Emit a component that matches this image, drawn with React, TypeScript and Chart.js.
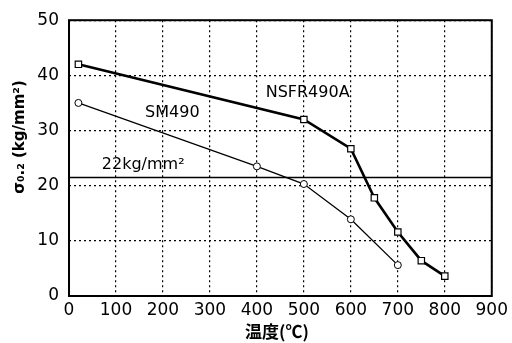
import React, { useEffect, useRef } from "react";
import { Chart, registerables } from "chart.js";

Chart.register(...registerables);

const nsfrTemps = [20, 500, 600, 650, 700, 750, 800];
const nsfrValues = [42, 32, 26.7, 17.8, 11.6, 6.4, 3.6];
const smTemps = [20, 400, 500, 600, 700];
const smValues = [35, 23.5, 20.3, 13.9, 5.6];
const refLineTemps = [0, 900];
const refLineValues = [21.5, 21.5];
const xTicks = [0, 100, 200, 300, 400, 500, 600, 700, 800, 900];
const yTicks = [0, 10, 20, 30, 40, 50];

const labels = [
  { text: "NSFR490A", x: 508, y: 36.8 },
  { text: "SM490", x: 220, y: 33.2 },
  { text: "22kg/mm²", x: 158, y: 23.8 },
];

const FONT = "'DejaVu Sans', 'Noto Sans', sans-serif";

const overlay = {
  id: "overlay",
  afterDraw(chart: any) {
    const { ctx, chartArea, scales } = chart;
    ctx.save();
    ctx.strokeStyle = "#000";
    ctx.lineWidth = 2;
    ctx.strokeRect(chartArea.left, chartArea.top, chartArea.right - chartArea.left, chartArea.bottom - chartArea.top);
    ctx.fillStyle = "#000";
    ctx.font = `16px ${FONT}`;
    ctx.textAlign = "center";
    ctx.textBaseline = "middle";
    for (const l of labels) {
      ctx.fillText(l.text, scales.x.getPixelForValue(l.x), scales.y.getPixelForValue(l.y));
    }
    // x title
    ctx.font = `bold 17px 'Noto Sans CJK JP', ${FONT}`;
    ctx.fillText("温度(℃)", 277, 332);
    // y title
    ctx.translate(20, 137);
    ctx.rotate(-Math.PI / 2);
    ctx.font = `bold 15px ${FONT}`;
    ctx.fillText("σ₀.₂ (kg/mm²)", 0, 0);
    ctx.restore();
  },
};

export default function App() {
  const ref = useRef<HTMLCanvasElement>(null);
  useEffect(() => {
    const chart = new Chart(ref.current!, {
      type: "scatter",
      data: {
        datasets: [
          {
            data: refLineTemps.map((t, i) => ({ x: t, y: refLineValues[i] })),
            showLine: true,
            borderColor: "#000",
            borderWidth: 1.5,
            pointRadius: 0,
          },
          {
            data: smTemps.map((t, i) => ({ x: t, y: smValues[i] })),
            showLine: true,
            borderColor: "#000",
            borderWidth: 1.3,
            pointStyle: "circle",
            pointRadius: 3.5,
            pointBackgroundColor: "#fff",
            pointBorderColor: "#000",
            pointBorderWidth: 1,
          },
          {
            data: nsfrTemps.map((t, i) => ({ x: t, y: nsfrValues[i] })),
            showLine: true,
            borderColor: "#000",
            borderWidth: 2.6,
            pointStyle: "rect",
            pointRadius: 4.5,
            pointBackgroundColor: "#fff",
            pointBorderColor: "#000",
            pointBorderWidth: 1.2,
          },
        ],
      },
      options: {
        responsive: false,
        animation: false,
        layout: { padding: { left: 0, top: 20, right: 16, bottom: 0 } },
        plugins: { legend: { display: false }, tooltip: { enabled: false } },
        scales: {
          x: {
            type: "linear",
            min: 0,
            max: 900,
            afterBuildTicks: (s: any) => { s.ticks = xTicks.map((v) => ({ value: v })); },
            afterFit: (s: any) => { s.height = 47; },
            ticks: { color: "#000", font: { size: 17, family: FONT }, padding: 4, maxRotation: 0 },
            grid: { color: "#000", lineWidth: 1.2, drawTicks: false },
            border: { display: false, dash: [2, 3] },
          },
          y: {
            type: "linear",
            min: 0,
            max: 50,
            afterBuildTicks: (s: any) => { s.ticks = yTicks.map((v) => ({ value: v })); },
            afterFit: (s: any) => { s.width = 69; },
            ticks: { color: "#000", font: { size: 17, family: FONT }, padding: 10 },
            grid: { color: "#000", lineWidth: 1.2, drawTicks: false },
            border: { display: false, dash: [2, 3] },
          },
        },
      },
      plugins: [overlay],
    } as any);
    return () => chart.destroy();
  }, []);
  return (
    <div style={{ position: "fixed", left: 0, top: 0, width: 512, height: 343, background: "#fff" }}>
      <canvas ref={ref} width={512} height={343} style={{ width: 512, height: 343 }} />
    </div>
  );
}
